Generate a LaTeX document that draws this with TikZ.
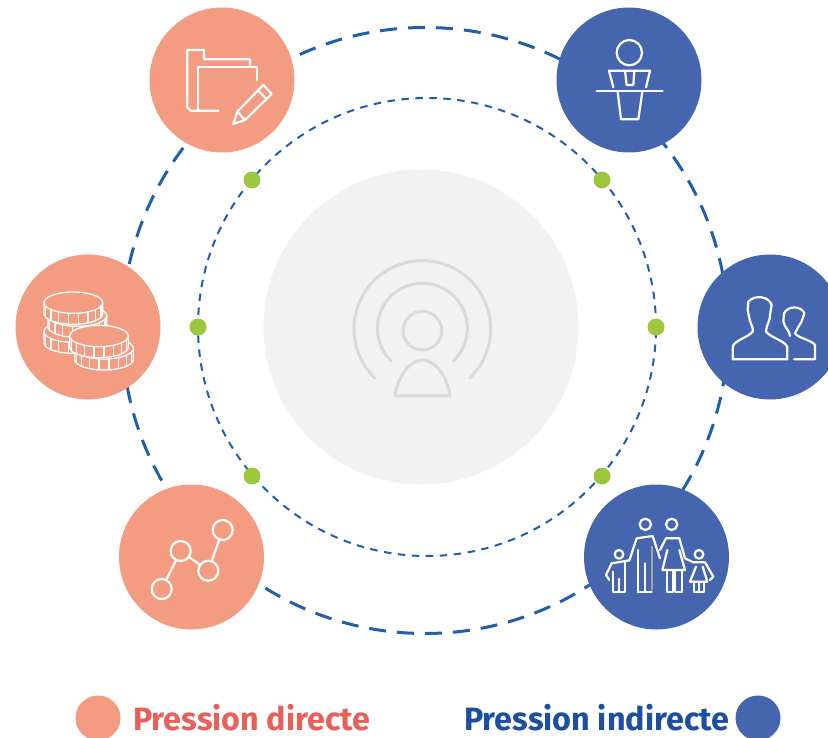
\documentclass[tikz,border=0pt]{standalone}
\usepackage{fontspec}
\setmainfont{Fira Sans}
\definecolor{peach}{HTML}{F49C82}
\definecolor{bluefill}{HTML}{4566AE}
\definecolor{ringblue}{HTML}{1F5FAE}
\definecolor{leaf}{HTML}{9CC63B}
\definecolor{hub}{HTML}{F2F2F2}
\definecolor{hubline}{HTML}{DADADA}
\definecolor{redtext}{HTML}{E8605A}
\definecolor{bluetext}{HTML}{1C4FA0}
\tikzset{
  bigdisc/.style={circle,minimum size=145pt,inner sep=0pt},
  direct/.style={bigdisc,fill=peach},
  indirect/.style={bigdisc,fill=bluefill},
  dot/.style={circle,fill=leaf,minimum size=17pt,inner sep=0pt},
  legenddisc/.style={circle,minimum size=45pt,inner sep=0pt},
  outerring/.style={circle,draw=ringblue,line width=3pt,minimum size=606pt,inner sep=0pt,dash pattern=on 17pt off 11pt},
  innerring/.style={circle,draw=ringblue,line width=2pt,minimum size=458pt,inner sep=0pt,dash pattern=on 7.5pt off 6.5pt},
  icon/.style={draw=white,line width=2.2pt,line join=round,line cap=round},
  thin icon/.style={draw=white,line width=1.3pt,line join=round,line cap=round},
  hubicon/.style={draw=hubline,line width=3pt,line join=round,line cap=round},
  link node/.style={circle,draw=white,line width=2.2pt,minimum size=20pt,inner sep=0pt},
  legendtext/.style={font=\bfseries\fontsize{32.3}{32.3}\selectfont,anchor=base west,inner sep=0pt}
}
\newcommand{\coinicon}[2]{%
  \filldraw[thin icon,fill=peach] plot[domain=180:0,samples=30] ({#1+88*cos(\x)},{#2+33+32*sin(\x)}) -- ({#1+88},{#2}) -- ({#1-88},{#2}) -- cycle;
  \foreach \a in {20,40,...,160}{\draw[thin icon] ({#1+88*cos(\a)},{#2+32*sin(\a)}) -- ({#1+88*cos(\a)},{#2+33+32*sin(\a)});}
  \filldraw[thin icon,fill=peach] (#1,#2) ellipse [x radius=88,y radius=32];
}
\begin{document}
\begin{tikzpicture}[x=1pt,y=-1pt]
\useasboundingbox (0,0) rectangle (828,738);
\clip (0,0) rectangle (828,738);
\fill[white] (0,0) rectangle (828,738);
% hub and rings
\node[circle,fill=hub,minimum size=315pt,inner sep=0pt] (hub) at (421,327) {};
\node[outerring] (outer) at (425,330.5) {};
\node[innerring] (inner) at (427,327) {};
% dots
\node[dot] (d1) at (252,180) {};
\node[dot] (d2) at (602,180) {};
\node[dot] (d3) at (198,327) {};
\node[dot] (d4) at (656,327) {};
\node[dot] (d5) at (252,476) {};
\node[dot] (d6) at (602,476) {};
% discs
\node[direct] (folder) at (222,80) {};
\node[direct] (coins) at (88,327) {};
\node[direct] (graph) at (191.5,557) {};
\node[indirect] (speaker) at (629,80) {};
\node[indirect] (people) at (770,327) {};
\node[indirect] (family) at (656.5,557) {};
% hub icon
\begin{scope}[shift={(330,240)},scale=1/3]
  \draw[hubicon] (277,272) circle [radius=58];
  \draw[hubicon] (195,468) .. controls (205,400) and (245,360) .. (277,360) .. controls (310,360) and (350,400) .. (360,468) -- cycle;
  \draw[hubicon] plot[domain=134:406,samples=70,smooth] ({277+135*cos(\x)},{265+135*sin(\x)});
  \draw[hubicon] plot[domain=134:406,samples=90,smooth] ({277+205*cos(\x)},{267+205*sin(\x)});
\end{scope}
% folder icon
\begin{scope}[shift={(130,0)},scale=1/3]
  \draw[icon] (265,332) -- (182,332) -- (172,322) -- (172,150) -- (222,150) -- (222,178) -- (360,178) -- (360,197);
  \draw[icon] (205,330) -- (205,200) -- (380,200) -- (380,240);
  \draw[icon] (310,372) -- (322,335) -- (400,255) -- (425,282) -- (345,360) -- cycle;
  \draw[icon] (322,335) -- (345,360);
  \draw[icon] (385,272) -- (410,297);
\end{scope}
% coins icon
\begin{scope}[shift={(0,250)},scale=1/3]
  \coinicon{220}{245}
  \coinicon{232}{197}
  \coinicon{220}{158}
  \coinicon{312}{295}
  \coinicon{297}{258}
\end{scope}
% graph icon
\node[link node] (g1) at (161.7,589) {};
\node[link node] (g2) at (180.7,551) {};
\node[link node] (g3) at (208.3,570.7) {};
\node[link node] (g4) at (222.7,530) {};
\draw[icon] (g1) -- (g2);
\draw[icon] (g2) -- (g3);
\draw[icon] (g3) -- (g4);
% speaker icon
\begin{scope}[shift={(545,0)},scale=1/3]
  \draw[icon] (253,158) circle [radius=38];
  \draw[icon] (205,262) -- (192,212) -- (315,212) -- (303,262);
  \draw[icon] (240,212) -- (245,255) -- (265,255) -- (268,212);
  \draw[icon] (155,273) -- (353,273);
  \draw[icon] (218,275) -- (228,358) -- (280,358) -- (292,275);
\end{scope}
% people icon
\begin{scope}[shift={(680,250)},scale=1/3]
  \draw[icon] (158,328) -- (322,328) -- (322,292) .. controls (320,275) and (270,262) .. (258,245) .. controls (258,225) and (272,210) .. (270,195) -- (275,165) .. controls (268,140) and (225,132) .. (205,155) -- (203,180) -- (208,205) .. controls (212,225) and (222,235) .. (218,245) .. controls (205,262) and (160,272) .. (158,292) -- cycle;
  \draw[icon] (342,328) -- (405,328) -- (405,285) .. controls (395,270) and (355,265) .. (345,250) .. controls (350,235) and (365,220) .. (368,205) -- (373,190) .. controls (365,168) and (325,165) .. (312,190) -- (310,215) .. controls (315,235) and (328,240) .. (330,258);
\end{scope}
% family icon
\begin{scope}[shift={(570,475)},scale=1/3]
  \draw[icon] (226,148) circle [radius=17];
  \draw[icon] (305,148) circle [radius=17];
  \draw[icon] (147,238) circle [radius=13];
  \draw[icon] (387,238) circle [radius=13];
  % father
  \draw[icon] (178,256) -- (200,190) -- (248,183) -- (270,250);
  \draw[icon] (205,352) -- (205,225);
  \draw[icon] (205,352) -- (225,352) -- (225,265);
  \draw[icon] (228,352) -- (245,352);
  \draw[gray!70,line width=2pt] (245,212) -- (245,345);
  % mother
  \draw[icon] (270,225) -- (288,190) -- (328,190) -- (345,250) -- (370,262);
  \draw[icon] (292,225) -- (277,285) -- (345,285) -- (328,225);
  \draw[icon] (290,285) -- (290,352) -- (310,352) -- (310,285);
  \draw[icon] (315,285) -- (315,352) -- (335,352) -- (335,285);
  % boy
  \draw[icon] (178,256) -- (125,265) -- (108,300) -- (118,315);
  \draw[icon] (128,290) -- (128,352) -- (147,352) -- (147,312) -- (147,352) -- (165,352) -- (165,262);
  % girl
  \draw[icon] (370,262) -- (405,262) -- (430,305) -- (420,315);
  \draw[icon] (378,275) -- (360,320) -- (412,320) -- (398,275);
  \draw[icon] (372,320) -- (372,352) -- (402,352) -- (402,320);
  \draw[icon] (387,320) -- (387,352);
\end{scope}
% legend
\node[legenddisc,fill=peach] (lgd) at (98,718) {};
\node[legenddisc,fill=bluefill] (lgi) at (758,718) {};
\node[legendtext,text=redtext] (ltd) at (133,730) {Pression directe};
\node[legendtext,text=bluetext] (lti) at (464,730) {Pression indirecte};
\end{tikzpicture}
\end{document}
